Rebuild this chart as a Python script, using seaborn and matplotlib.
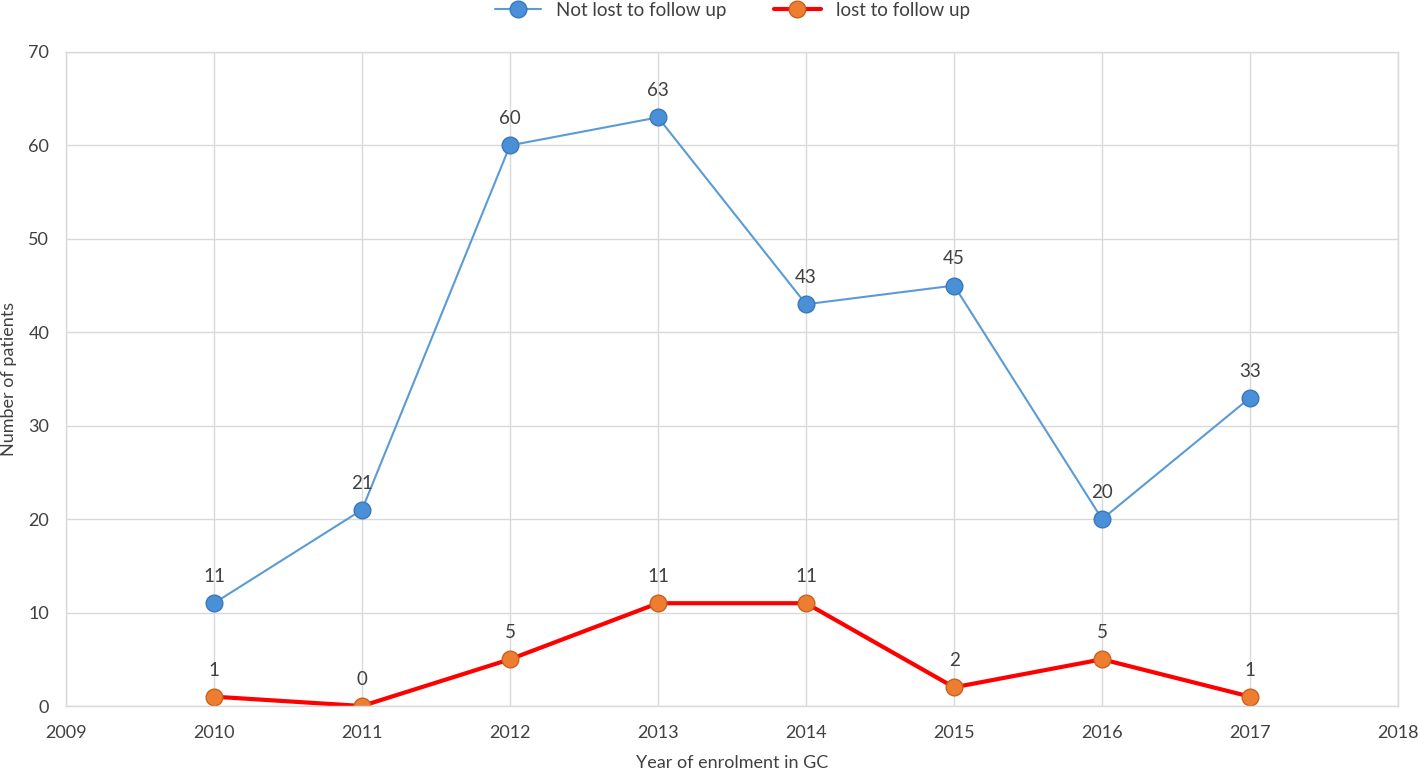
import matplotlib
matplotlib.use("Agg")
import matplotlib.pyplot as plt
import pandas as pd
import seaborn as sns

years = [2010, 2011, 2012, 2013, 2014, 2015, 2016, 2017]
not_lost = [11, 21, 60, 63, 43, 45, 20, 33]
lost = [1, 0, 5, 11, 11, 2, 5, 1]

sns.set_theme(style="whitegrid")
plt.rcParams['font.family'] = ['Lato', 'DejaVu Sans']

txt = '#404040'
df = pd.DataFrame({"year": years * 2,
                   "patients": not_lost + lost,
                   "group": ["Not lost to follow up"] * len(years) + ["lost to follow up"] * len(years)})

fig = plt.figure(figsize=(14.18, 7.71), dpi=100)
ax = fig.add_axes([0.0465, 0.0843, 0.9395, 0.8483])

sns.lineplot(data=df[df.group == "Not lost to follow up"], x="year", y="patients", ax=ax,
             color='#5B9BD5', linewidth=1.5, marker='o', markersize=12,
             markerfacecolor='#4A90D9', markeredgecolor='#3A78B8', markeredgewidth=1,
             label="Not lost to follow up")
sns.lineplot(data=df[df.group == "lost to follow up"], x="year", y="patients", ax=ax,
             color='#FF0000', linewidth=3, marker='o', markersize=12,
             markerfacecolor='#ED7D31', markeredgecolor='#C8621E', markeredgewidth=1,
             label="lost to follow up")

for x, y in zip(years, not_lost):
    ax.annotate(str(y), (x, y), xytext=(0, 13), textcoords='offset points',
                ha='center', va='bottom', fontsize=13.5, color=txt)
for x, y in zip(years, lost):
    ax.annotate(str(y), (x, y), xytext=(0, 13), textcoords='offset points',
                ha='center', va='bottom', fontsize=13.5, color=txt)

ax.set_xlim(2009, 2018)
ax.set_ylim(0, 70)
ax.set_xticks(range(2009, 2019))
ax.set_yticks(range(0, 71, 10))
ax.tick_params(axis='both', length=0, labelsize=13, colors=txt)
ax.tick_params(axis='x', pad=14)
ax.tick_params(axis='y', pad=12)
ax.grid(True, color='#D9D9D9', linewidth=1)
for s in ax.spines.values():
    s.set_color('#D9D9D9')
    s.set_linewidth(1)

ax.set_xlabel("Year of enrolment in GC", fontsize=13, color=txt, labelpad=10)
ax.set_ylabel("Number of patients", fontsize=13, color=txt, labelpad=8)

leg = ax.legend(loc='center', bbox_to_anchor=(0.5, 1.064), ncol=2, frameon=False,
                fontsize=13.5, handlelength=2.5, columnspacing=2.5, borderaxespad=0)
for t in leg.get_texts():
    t.set_color(txt)

fig.savefig("out.png", dpi=100)
